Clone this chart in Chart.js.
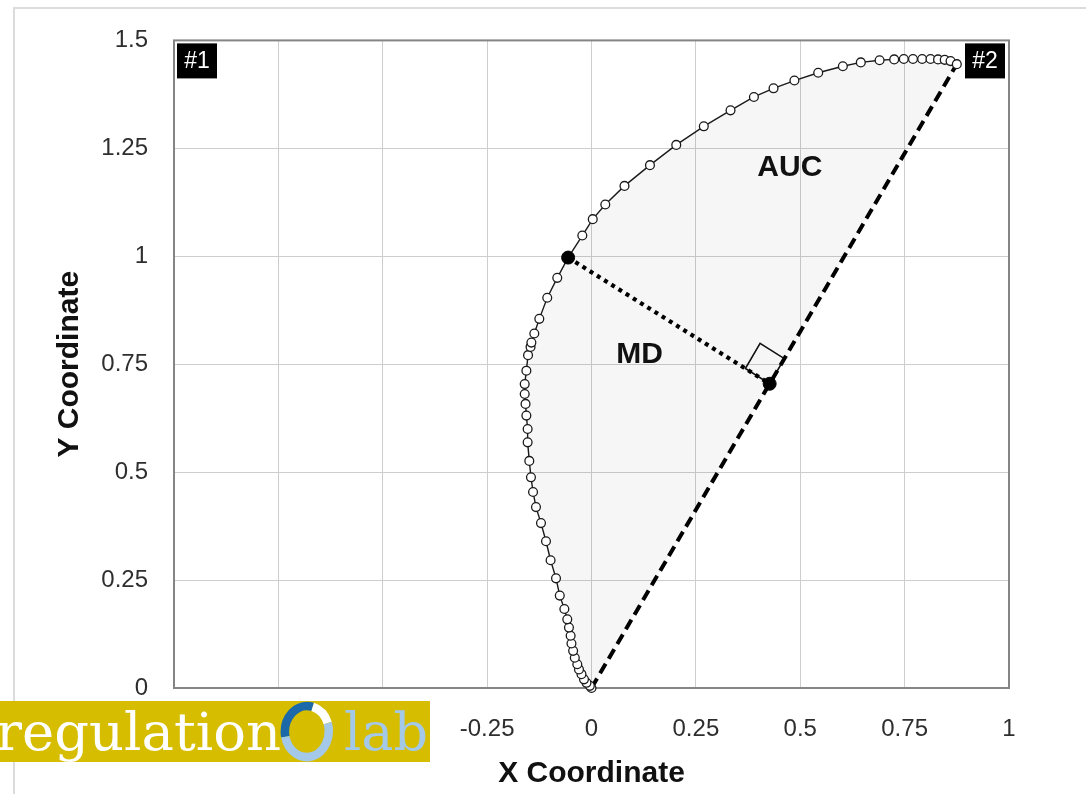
<!DOCTYPE html>
<html><head><meta charset="utf-8">
<script src="https://cdn.jsdelivr.net/npm/chart.js@4.4.1/dist/chart.umd.min.js"></script>
<style>
html,body{margin:0;padding:0;background:#fff;overflow:hidden}
#wrap{position:relative;width:1086px;height:794px;overflow:hidden}
#frame{position:absolute;left:13px;top:7px;width:1200px;height:900px;border-left:2px solid #dcdcdc;border-top:2px solid #dcdcdc}
#c{position:absolute;left:0;top:0}
#logo{position:absolute;left:0;top:701px}
</style></head>
<body>
<div id="wrap">
<div id="frame"></div>
<canvas id="c" width="1086" height="794"></canvas>
<svg id="logo" width="430" height="61" viewBox="0 0 430 61">
  <rect x="0" y="0" width="430" height="61" fill="#d6bd00"/>
  <text x="-4" y="49" font-family="DejaVu Serif" font-size="52" fill="#ffffff" textLength="285" lengthAdjust="spacingAndGlyphs">regulation</text>
  <path d="M 285.3 35.8 A 22 26 0 0 1 312.7 5.9" fill="none" stroke="#1b69a8" stroke-width="8.5"/>
  <path d="M 312.7 5.9 A 22 26 0 0 1 327.7 22.1" fill="none" stroke="#ffffff" stroke-width="8.5"/>
  <path d="M 327.7 22.1 A 22 26 0 1 1 285.3 35.8" fill="none" stroke="#a3c8e8" stroke-width="8.5"/>
  <text x="344" y="49" font-family="DejaVu Serif" font-size="52" fill="#a3c8e8" textLength="84" lengthAdjust="spacingAndGlyphs">lab</text>
</svg>
</div>
<script>
// ---- data ----
const curveX = [0, -0.004, -0.012, -0.018, -0.024, -0.030, -0.034, -0.040, -0.044, -0.048, -0.050, -0.054, -0.058, -0.065, -0.076, -0.085, -0.098, -0.109, -0.121, -0.133, -0.140, -0.145, -0.149, -0.153, -0.153, -0.156, -0.158, -0.160, -0.160, -0.156, -0.152, -0.146, -0.144, -0.137, -0.125, -0.106, -0.082, -0.056, -0.022, 0.003, 0.033, 0.079, 0.140, 0.203, 0.269, 0.333, 0.389, 0.436, 0.486, 0.543, 0.602, 0.645, 0.690, 0.725, 0.748, 0.770, 0.792, 0.812, 0.830, 0.846, 0.860, 0.875];
const curveY = [0, 0.005, 0.012, 0.020, 0.032, 0.043, 0.055, 0.070, 0.086, 0.103, 0.121, 0.140, 0.159, 0.183, 0.214, 0.254, 0.296, 0.340, 0.382, 0.419, 0.454, 0.488, 0.526, 0.569, 0.600, 0.631, 0.658, 0.681, 0.704, 0.735, 0.771, 0.790, 0.800, 0.821, 0.855, 0.904, 0.950, 0.997, 1.048, 1.086, 1.120, 1.163, 1.211, 1.258, 1.301, 1.338, 1.369, 1.389, 1.407, 1.425, 1.440, 1.449, 1.454, 1.456, 1.457, 1.457, 1.457, 1.457, 1.456, 1.455, 1.452, 1.445];
const mdIndex = 37;               // curve point with maximum deviation
const xTicks = [-1, -0.75, -0.5, -0.25, 0, 0.25, 0.5, 0.75, 1];
const xTickLabels = ['-1', '-0.75', '-0.5', '-0.25', '0', '0.25', '0.5', '0.75', '1'];
const yTicks = [0, 0.25, 0.5, 0.75, 1, 1.25, 1.5];
const yTickLabels = ['0', '0.25', '0.5', '0.75', '1', '1.25', '1.5'];
const areaLabels = ['AUC', 'MD'];
const cornerLabels = ['#1', '#2'];

// ---- derived geometry ----
const curve = curveX.map((x, i) => ({x, y: curveY[i]}));
const start = curve[0], end = curve[curve.length - 1];
const md = curve[mdIndex];
const L = Math.hypot(end.x - start.x, end.y - start.y);
const ux = (end.x - start.x) / L, uy = (end.y - start.y) / L;
const t = (md.x - start.x) * ux + (md.y - start.y) * uy;
const foot = {x: start.x + t * ux, y: start.y + t * uy};
const s = 0.068, vx = -uy, vy = ux;
const square = [
  foot,
  {x: foot.x + s * vx, y: foot.y + s * vy},
  {x: foot.x + s * vx + s * ux, y: foot.y + s * vy + s * uy},
  {x: foot.x + s * ux, y: foot.y + s * uy},
  foot
];
const labelAnchors = {AUC: [0.475, 1.205], MD: [0.115, 0.772]};

const FONT = "'Liberation Sans', Arial, Helvetica, sans-serif";

const decor = {
  id: 'decor',
  beforeDatasetsDraw(chart) {
    const {ctx, chartArea: a} = chart;
    ctx.save();
    ctx.strokeStyle = '#858585';
    ctx.lineWidth = 2;
    ctx.strokeRect(a.left, a.top, a.right - a.left, a.bottom - a.top);
    ctx.restore();
  },
  afterDatasetsDraw(chart) {
    const {ctx, chartArea: a, scales: {x, y}} = chart;
    ctx.save();
    ctx.font = "bold 30px " + FONT;
    ctx.fillStyle = '#111';
    ctx.textAlign = 'center';
    ctx.textBaseline = 'middle';
    areaLabels.forEach(l => {
      const p = labelAnchors[l];
      ctx.fillText(l, x.getPixelForValue(p[0]), y.getPixelForValue(p[1]));
    });
    // corner tags
    const bw = 40, bh = 35;
    const boxes = [[a.left + 3, a.top + 3], [a.right - bw - 4, a.top + 3]];
    ctx.font = "23px " + FONT;
    boxes.forEach((b, i) => {
      ctx.fillStyle = '#000';
      ctx.fillRect(b[0], b[1], bw, bh);
      ctx.fillStyle = '#fff';
      ctx.fillText(cornerLabels[i], b[0] + bw / 2, b[1] + bh / 2 + 1);
    });
    ctx.restore();
  }
};

new Chart(document.getElementById('c'), {
  type: 'scatter',
  data: {
    datasets: [
      {label: 'MD ends', data: [md, foot], showLine: false, pointRadius: 6.5,
       pointBackgroundColor: '#000', pointBorderColor: '#000', clip: false},
      {label: 'Trajectory', data: curve, showLine: true, borderColor: '#1a1a1a', borderWidth: 1.4,
       pointRadius: 4.4, pointBackgroundColor: '#fff', pointBorderColor: '#1a1a1a', pointBorderWidth: 1.3,
       tension: 0, fill: false, clip: false},
      {label: 'MD', data: [md, foot], showLine: true, borderColor: '#000', borderWidth: 4.2,
       borderDash: [4, 4.5], pointRadius: 0, fill: false},
      {label: 'Ideal', data: [start, end], showLine: true, borderColor: '#000', borderWidth: 4,
       borderDash: [11, 6], pointRadius: 0, fill: false},
      {label: 'Right angle', data: square, showLine: true, borderColor: '#111', borderWidth: 1.6,
       pointRadius: 0, fill: false},
      {label: 'AUC', data: curve, showLine: true, borderWidth: 0, borderColor: 'rgba(0,0,0,0)',
       pointRadius: 0, fill: 'shape', backgroundColor: 'rgba(0,0,0,0.035)'}
    ]
  },
  options: {
    responsive: false,
    animation: false,
    layout: {padding: {left: 0, top: 40, right: 77, bottom: 0}},
    plugins: {legend: {display: false}, tooltip: {enabled: false}},
    scales: {
      x: {
        type: 'linear', min: -1, max: 1,
        afterBuildTicks: sc => { sc.ticks = xTicks.map(v => ({value: v})); },
        afterFit: sc => { sc.height = 106; },
        ticks: {
          callback: (v) => xTickLabels[xTicks.indexOf(v)],
          font: {family: FONT, size: 24}, color: '#2e2e2e', padding: 27, maxRotation: 0
        },
        grid: {color: '#cdcdcd', lineWidth: 1, drawTicks: false},
        border: {display: false},
        title: {display: true, text: 'X Coordinate', color: '#111',
                font: {family: FONT, size: 30, weight: 'bold'}, padding: {top: 0, bottom: 2}}
      },
      y: {
        type: 'linear', min: 0, max: 1.5,
        afterBuildTicks: sc => { sc.ticks = yTicks.map(v => ({value: v})); },
        afterFit: sc => { sc.width = 174; },
        ticks: {
          callback: (v) => yTickLabels[yTicks.indexOf(v)],
          font: {family: FONT, size: 24}, color: '#2e2e2e', padding: 26
        },
        grid: {color: '#cdcdcd', lineWidth: 1, drawTicks: false},
        border: {display: false},
        title: {display: true, text: 'Y Coordinate', color: '#111',
                font: {family: FONT, size: 30, weight: 'bold'}, padding: {top: 52, bottom: 0}}
      }
    }
  },
  plugins: [decor]
});
</script>
</body></html>
